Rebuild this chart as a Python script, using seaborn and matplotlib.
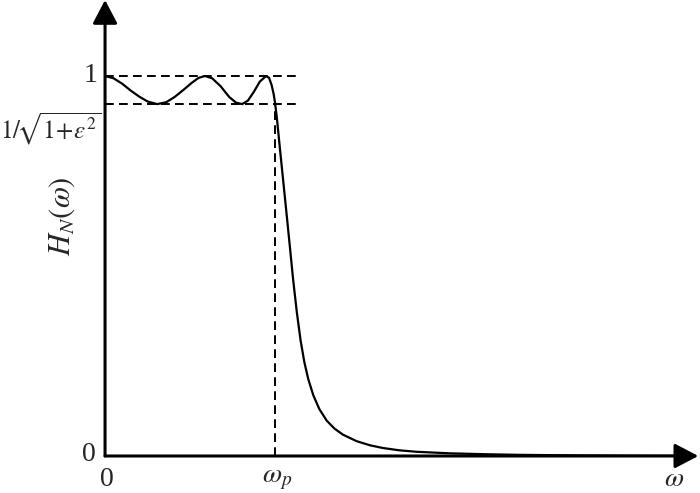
import numpy as np
import matplotlib
matplotlib.use("Agg")
import matplotlib.pyplot as plt
import seaborn as sns
import pandas as pd

# Chebyshev low-pass magnitude response
omega = [0.000, 0.050, 0.100, 0.150, 0.200, 0.250, 0.306, 0.360, 0.410, 0.460,
         0.510, 0.550, 0.588, 0.630, 0.680, 0.730, 0.770, 0.806, 0.840, 0.875,
         0.910, 0.947, 0.965, 0.980, 0.992, 1.000, 1.010, 1.029, 1.049, 1.069,
         1.087, 1.106, 1.128, 1.150, 1.172, 1.195, 1.225, 1.260, 1.304, 1.350,
         1.400, 1.480, 1.560, 1.635, 1.730, 1.834, 2.029, 2.250, 2.440, 2.800,
         3.100, 3.370]
h_mag = [1.000, 0.994, 0.980, 0.962, 0.946, 0.933, 0.926, 0.931, 0.945, 0.963,
         0.982, 0.995, 1.000, 0.994, 0.973, 0.945, 0.930, 0.926, 0.935, 0.958,
         0.985, 1.000, 0.995, 0.976, 0.952, 0.930, 0.893, 0.808, 0.720, 0.632,
         0.552, 0.466, 0.379, 0.305, 0.248, 0.203, 0.160, 0.124, 0.093, 0.072,
         0.056, 0.039, 0.028, 0.021, 0.015, 0.011, 0.007, 0.0045, 0.003, 0.0015,
         0.0008, 0.0005]

omega_p = 1.0
ripple_top = 1.0
ripple_low = 0.926
dash_end = 1.135
x_axis_end = 3.49
y_axis_end = 1.2

df = pd.DataFrame({"omega": omega, "H": h_mag})

sns.set_style("white")
plt.rcParams["mathtext.fontset"] = "stix"
plt.rcParams["font.family"] = ["Liberation Serif", "DejaVu Serif"]

fig = plt.figure(figsize=(7, 4.93), dpi=100)
ax = fig.add_axes([0, 0, 1, 1])
ax.set_xlim(-0.618, 3.5)
ax.set_ylim(-0.0974, 1.2)
ax.axis("off")

sns.lineplot(data=df, x="omega", y="H", sort=False, estimator=None,
             color="black", linewidth=1.6, ax=ax)

# ripple band and passband edge
dash = dict(color="black", linewidth=1.4, dashes=(4.5, 2.7))
ax.plot([0, dash_end], [ripple_top, ripple_top], **dash)
ax.plot([0, dash_end], [ripple_low, ripple_low], **dash)
ax.plot([omega_p, omega_p], [0, ripple_low], **dash)

# axes with arrows
arrow = dict(arrowstyle="-|>,head_length=0.8,head_width=0.42",
             mutation_scale=18, lw=2.2, color="black", shrinkA=0, shrinkB=0)
ax.annotate("", xy=(x_axis_end, 0), xytext=(0, 0), arrowprops=arrow)
ax.annotate("", xy=(0, y_axis_end), xytext=(0, 0), arrowprops=arrow)

fs = 20
ax.text(-0.045, ripple_top, "1", ha="right", va="center", fontsize=fs)
ax.text(-0.025, 0.862, r"$1/\!\sqrt{1\!+\!\varepsilon^2}$", ha="right",
        va="center", fontsize=18)
ax.text(-0.055, 0.004, "0", ha="right", va="center", fontsize=fs)
ax.text(0.01, -0.03, "0", ha="center", va="top", fontsize=fs)
ax.text(omega_p + 0.01, -0.03, r"$\omega_p$", ha="center", va="top",
        fontsize=fs)
ax.text(3.347, -0.03, r"$\omega$", ha="center", va="top", fontsize=fs)
ax.text(-0.253, 0.632, r"$H_N(\omega)$", ha="center", va="center",
        rotation=90, fontsize=22)

fig.savefig("out.png", dpi=100)
